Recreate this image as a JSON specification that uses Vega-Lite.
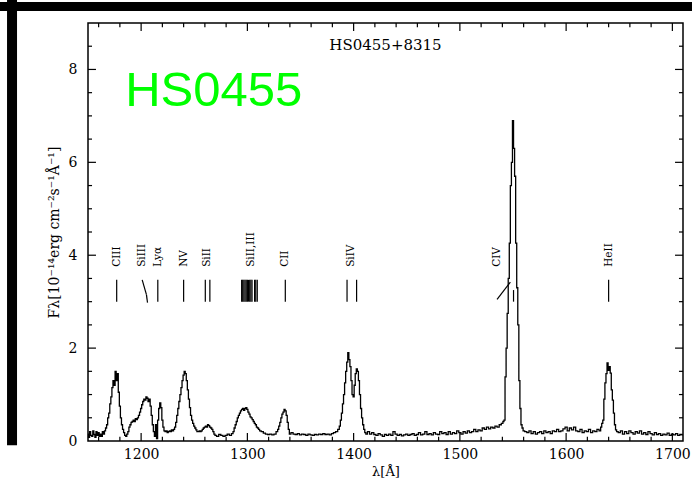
{
  "$schema": "https://vega.github.io/schema/vega-lite/v6.json",
  "width": 595,
  "height": 418,
  "autosize": "none",
  "padding": {"left": 88, "top": 23, "right": 9, "bottom": 41},
  "background": "white",
  "config": {
    "view": {"stroke": "black", "strokeWidth": 1.5},
    "axis": {"grid": false, "domain": false, "ticks": false, "labelColor": "black", "titleColor": "black", "labelFont": "DejaVu Serif", "titleFont": "DejaVu Serif", "labelFontSize": 14, "titleFontSize": 14, "titleFontWeight": "normal", "labelOverlap": false, "labelFlush": false}
  },
  "datasets": {
    "spec": [
      {"w":1150,"f":0.15},{"w":1151,"f":0.08},{"w":1152,"f":0.2},{"w":1153,"f":0.12},{"w":1154,"f":0.1},{"w":1155,"f":0.22},{"w":1156,"f":0.14},{"w":1157,"f":0.08},{"w":1158,"f":0.2},{"w":1159,"f":0.12},
      {"w":1160,"f":0.18},{"w":1161,"f":0.1},{"w":1162,"f":0.15},{"w":1163,"f":0.1},{"w":1164,"f":0.2},{"w":1165,"f":0.15},{"w":1166,"f":0.22},{"w":1167,"f":0.28},{"w":1168,"f":0.35},{"w":1169,"f":0.5},
      {"w":1170,"f":0.6},{"w":1171,"f":0.8},{"w":1172,"f":0.95},{"w":1173,"f":1.15},{"w":1174,"f":1.3},{"w":1175,"f":1.2},{"w":1176,"f":1.5},{"w":1177,"f":1.3},{"w":1178,"f":1.45},{"w":1179,"f":1.05},
      {"w":1180,"f":0.75},{"w":1181,"f":0.5},{"w":1182,"f":0.35},{"w":1183,"f":0.25},{"w":1184,"f":0.18},{"w":1185,"f":0.12},{"w":1186,"f":0.1},{"w":1187,"f":0.15},{"w":1188,"f":0.2},{"w":1189,"f":0.3},
      {"w":1190,"f":0.35},{"w":1191,"f":0.4},{"w":1192,"f":0.42},{"w":1193,"f":0.45},{"w":1194,"f":0.42},{"w":1195,"f":0.48},{"w":1196,"f":0.46},{"w":1197,"f":0.5},{"w":1198,"f":0.55},{"w":1199,"f":0.62},
      {"w":1200,"f":0.7},{"w":1201,"f":0.78},{"w":1202,"f":0.85},{"w":1203,"f":0.9},{"w":1204,"f":0.88},{"w":1205,"f":0.95},{"w":1206,"f":0.92},{"w":1207,"f":0.85},{"w":1208,"f":0.9},{"w":1209,"f":0.75},
      {"w":1210,"f":0.55},{"w":1211,"f":0.35},{"w":1212,"f":0.2},{"w":1213,"f":0.1},{"w":1214,"f":0.35},{"w":1215,"f":0.05},{"w":1216,"f":0.45},{"w":1217,"f":0.7},{"w":1218,"f":0.82},{"w":1219,"f":0.72},
      {"w":1220,"f":0.45},{"w":1221,"f":0.3},{"w":1222,"f":0.22},{"w":1223,"f":0.2},{"w":1224,"f":0.22},{"w":1225,"f":0.18},{"w":1226,"f":0.2},{"w":1227,"f":0.22},{"w":1228,"f":0.2},{"w":1229,"f":0.24},
      {"w":1230,"f":0.22},{"w":1231,"f":0.25},{"w":1232,"f":0.3},{"w":1233,"f":0.4},{"w":1234,"f":0.55},{"w":1235,"f":0.7},{"w":1236,"f":0.85},{"w":1237,"f":1.0},{"w":1238,"f":1.15},{"w":1239,"f":1.3},
      {"w":1240,"f":1.42},{"w":1241,"f":1.5},{"w":1242,"f":1.45},{"w":1243,"f":1.3},{"w":1244,"f":1.1},{"w":1245,"f":0.9},{"w":1246,"f":0.72},{"w":1247,"f":0.55},{"w":1248,"f":0.45},{"w":1249,"f":0.38},
      {"w":1250,"f":0.32},{"w":1251,"f":0.28},{"w":1252,"f":0.24},{"w":1253,"f":0.2},{"w":1254,"f":0.2},{"w":1255,"f":0.22},{"w":1256,"f":0.2},{"w":1257,"f":0.22},{"w":1258,"f":0.25},{"w":1259,"f":0.28},
      {"w":1260,"f":0.3},{"w":1261,"f":0.32},{"w":1262,"f":0.3},{"w":1263,"f":0.35},{"w":1264,"f":0.33},{"w":1265,"f":0.3},{"w":1266,"f":0.28},{"w":1267,"f":0.25},{"w":1268,"f":0.2},{"w":1269,"f":0.15},
      {"w":1270,"f":0.12},{"w":1272,"f":0.1},{"w":1274,"f":0.14},{"w":1276,"f":0.12},{"w":1278,"f":0.1},{"w":1280,"f":0.12},{"w":1282,"f":0.15},{"w":1284,"f":0.12},{"w":1286,"f":0.16},{"w":1287,"f":0.2},
      {"w":1288,"f":0.28},{"w":1289,"f":0.35},{"w":1290,"f":0.42},{"w":1291,"f":0.5},{"w":1292,"f":0.55},{"w":1293,"f":0.6},{"w":1294,"f":0.65},{"w":1295,"f":0.68},{"w":1296,"f":0.7},{"w":1297,"f":0.66},
      {"w":1298,"f":0.7},{"w":1299,"f":0.72},{"w":1300,"f":0.68},{"w":1301,"f":0.62},{"w":1302,"f":0.58},{"w":1303,"f":0.52},{"w":1304,"f":0.5},{"w":1305,"f":0.46},{"w":1306,"f":0.42},{"w":1307,"f":0.38},
      {"w":1308,"f":0.35},{"w":1309,"f":0.3},{"w":1310,"f":0.28},{"w":1311,"f":0.25},{"w":1312,"f":0.22},{"w":1314,"f":0.2},{"w":1316,"f":0.17},{"w":1318,"f":0.15},{"w":1320,"f":0.14},{"w":1322,"f":0.15},
      {"w":1324,"f":0.13},{"w":1326,"f":0.15},{"w":1328,"f":0.2},{"w":1329,"f":0.25},{"w":1330,"f":0.32},{"w":1331,"f":0.4},{"w":1332,"f":0.5},{"w":1333,"f":0.58},{"w":1334,"f":0.62},{"w":1335,"f":0.68},
      {"w":1336,"f":0.65},{"w":1337,"f":0.55},{"w":1338,"f":0.4},{"w":1339,"f":0.25},{"w":1340,"f":0.15},{"w":1342,"f":0.18},{"w":1344,"f":0.15},{"w":1346,"f":0.14},{"w":1348,"f":0.16},{"w":1350,"f":0.13},
      {"w":1352,"f":0.15},{"w":1354,"f":0.14},{"w":1356,"f":0.12},{"w":1358,"f":0.15},{"w":1360,"f":0.13},{"w":1362,"f":0.12},{"w":1364,"f":0.14},{"w":1366,"f":0.13},{"w":1368,"f":0.15},{"w":1370,"f":0.14},
      {"w":1372,"f":0.16},{"w":1374,"f":0.14},{"w":1376,"f":0.15},{"w":1378,"f":0.13},{"w":1380,"f":0.16},{"w":1382,"f":0.18},{"w":1384,"f":0.2},{"w":1386,"f":0.25},{"w":1387,"f":0.32},{"w":1388,"f":0.45},
      {"w":1389,"f":0.6},{"w":1390,"f":0.8},{"w":1391,"f":1.0},{"w":1392,"f":1.25},{"w":1393,"f":1.5},{"w":1394,"f":1.7},{"w":1395,"f":1.9},{"w":1396,"f":1.75},{"w":1397,"f":1.6},{"w":1398,"f":1.3},
      {"w":1399,"f":1.0},{"w":1400,"f":0.95},{"w":1401,"f":1.2},{"w":1402,"f":1.45},{"w":1403,"f":1.55},{"w":1404,"f":1.5},{"w":1405,"f":1.3},{"w":1406,"f":1.0},{"w":1407,"f":0.7},{"w":1408,"f":0.5},
      {"w":1409,"f":0.35},{"w":1410,"f":0.25},{"w":1411,"f":0.18},{"w":1412,"f":0.15},{"w":1414,"f":0.2},{"w":1416,"f":0.15},{"w":1418,"f":0.18},{"w":1420,"f":0.14},{"w":1422,"f":0.12},{"w":1424,"f":0.16},
      {"w":1426,"f":0.13},{"w":1428,"f":0.1},{"w":1430,"f":0.14},{"w":1432,"f":0.12},{"w":1434,"f":0.15},{"w":1436,"f":0.12},{"w":1438,"f":0.2},{"w":1440,"f":0.15},{"w":1442,"f":0.12},{"w":1444,"f":0.14},
      {"w":1446,"f":0.11},{"w":1448,"f":0.13},{"w":1450,"f":0.15},{"w":1452,"f":0.12},{"w":1454,"f":0.14},{"w":1456,"f":0.16},{"w":1458,"f":0.12},{"w":1460,"f":0.14},{"w":1462,"f":0.18},{"w":1464,"f":0.13},
      {"w":1466,"f":0.15},{"w":1468,"f":0.2},{"w":1470,"f":0.14},{"w":1472,"f":0.16},{"w":1474,"f":0.13},{"w":1476,"f":0.18},{"w":1478,"f":0.15},{"w":1480,"f":0.14},{"w":1482,"f":0.2},{"w":1484,"f":0.16},
      {"w":1486,"f":0.18},{"w":1488,"f":0.14},{"w":1490,"f":0.2},{"w":1492,"f":0.15},{"w":1494,"f":0.18},{"w":1496,"f":0.16},{"w":1498,"f":0.22},{"w":1500,"f":0.18},{"w":1502,"f":0.15},{"w":1504,"f":0.2},
      {"w":1506,"f":0.17},{"w":1508,"f":0.22},{"w":1510,"f":0.18},{"w":1512,"f":0.2},{"w":1514,"f":0.25},{"w":1516,"f":0.2},{"w":1518,"f":0.24},{"w":1520,"f":0.22},{"w":1522,"f":0.28},{"w":1524,"f":0.25},
      {"w":1526,"f":0.3},{"w":1528,"f":0.26},{"w":1530,"f":0.3},{"w":1532,"f":0.28},{"w":1534,"f":0.32},{"w":1536,"f":0.3},{"w":1538,"f":0.35},{"w":1540,"f":0.38},{"w":1541,"f":0.42},{"w":1542,"f":0.45},
      {"w":1543,"f":1.38},{"w":1544,"f":2.0},{"w":1545,"f":2.75},{"w":1546,"f":3.5},{"w":1547,"f":4.26},{"w":1548,"f":5.5},{"w":1549,"f":6.0},{"w":1550,"f":6.9},{"w":1551,"f":6.3},{"w":1552,"f":5.7},
      {"w":1553,"f":4.26},{"w":1554,"f":3.3},{"w":1555,"f":2.5},{"w":1556,"f":1.3},{"w":1557,"f":0.7},{"w":1558,"f":0.35},{"w":1559,"f":0.28},{"w":1560,"f":0.22},{"w":1562,"f":0.2},{"w":1564,"f":0.18},
      {"w":1566,"f":0.22},{"w":1568,"f":0.16},{"w":1570,"f":0.2},{"w":1572,"f":0.15},{"w":1574,"f":0.18},{"w":1576,"f":0.2},{"w":1578,"f":0.16},{"w":1580,"f":0.22},{"w":1582,"f":0.18},{"w":1584,"f":0.2},
      {"w":1586,"f":0.16},{"w":1588,"f":0.22},{"w":1590,"f":0.2},{"w":1592,"f":0.25},{"w":1594,"f":0.2},{"w":1596,"f":0.22},{"w":1598,"f":0.26},{"w":1600,"f":0.3},{"w":1602,"f":0.22},{"w":1604,"f":0.28},
      {"w":1606,"f":0.24},{"w":1608,"f":0.3},{"w":1610,"f":0.22},{"w":1612,"f":0.2},{"w":1614,"f":0.25},{"w":1616,"f":0.18},{"w":1618,"f":0.22},{"w":1620,"f":0.2},{"w":1622,"f":0.25},{"w":1624,"f":0.18},
      {"w":1626,"f":0.22},{"w":1628,"f":0.2},{"w":1630,"f":0.25},{"w":1632,"f":0.22},{"w":1633,"f":0.3},{"w":1634,"f":0.38},{"w":1635,"f":0.45},{"w":1636,"f":0.9},{"w":1637,"f":1.25},{"w":1638,"f":1.45},
      {"w":1639,"f":1.68},{"w":1640,"f":1.52},{"w":1641,"f":1.6},{"w":1642,"f":1.46},{"w":1643,"f":1.1},{"w":1644,"f":0.88},{"w":1645,"f":0.6},{"w":1646,"f":0.35},{"w":1647,"f":0.24},{"w":1648,"f":0.2},
      {"w":1650,"f":0.18},{"w":1652,"f":0.22},{"w":1654,"f":0.15},{"w":1656,"f":0.2},{"w":1658,"f":0.16},{"w":1660,"f":0.22},{"w":1662,"f":0.18},{"w":1664,"f":0.15},{"w":1666,"f":0.2},{"w":1668,"f":0.17},
      {"w":1670,"f":0.22},{"w":1672,"f":0.15},{"w":1674,"f":0.18},{"w":1676,"f":0.14},{"w":1678,"f":0.2},{"w":1680,"f":0.16},{"w":1682,"f":0.13},{"w":1684,"f":0.18},{"w":1686,"f":0.14},{"w":1688,"f":0.16},
      {"w":1690,"f":0.12},{"w":1692,"f":0.15},{"w":1694,"f":0.13},{"w":1696,"f":0.17},{"w":1698,"f":0.12},{"w":1700,"f":0.15},{"w":1702,"f":0.13},{"w":1704,"f":0.16},{"w":1706,"f":0.12},{"w":1708,"f":0.14},{"w":1710,"f":0.13}
    ],
    "segs": [
      {"w":1177,"f":3.0,"w2":1177,"f2":3.47},
      {"w":1201,"f":3.47,"w2":1205,"f2":3.15},
      {"w":1205,"f":3.15,"w2":1206,"f2":2.98},
      {"w":1215.7,"f":3.0,"w2":1215.7,"f2":3.47},
      {"w":1240,"f":3.0,"w2":1240,"f2":3.47},
      {"w":1260.4,"f":3.0,"w2":1260.4,"f2":3.47},
      {"w":1264.7,"f":3.0,"w2":1264.7,"f2":3.47},
      {"w":1294.6,"f":3.0,"w2":1294.6,"f2":3.47},
      {"w":1295.6,"f":3.0,"w2":1295.6,"f2":3.47},
      {"w":1296.7,"f":3.0,"w2":1296.7,"f2":3.47},
      {"w":1297.8,"f":3.0,"w2":1297.8,"f2":3.47},
      {"w":1298.9,"f":3.0,"w2":1298.9,"f2":3.47},
      {"w":1300,"f":3.0,"w2":1300,"f2":3.47},
      {"w":1301.1,"f":3.0,"w2":1301.1,"f2":3.47},
      {"w":1302.2,"f":3.0,"w2":1302.2,"f2":3.47},
      {"w":1303.3,"f":3.0,"w2":1303.3,"f2":3.47},
      {"w":1304.4,"f":3.0,"w2":1304.4,"f2":3.47},
      {"w":1306.8,"f":3.0,"w2":1306.8,"f2":3.47},
      {"w":1307.9,"f":3.0,"w2":1307.9,"f2":3.47},
      {"w":1309.3,"f":3.0,"w2":1309.3,"f2":3.47},
      {"w":1335.7,"f":3.0,"w2":1335.7,"f2":3.47},
      {"w":1393.8,"f":3.0,"w2":1393.8,"f2":3.47},
      {"w":1402.8,"f":3.0,"w2":1402.8,"f2":3.47},
      {"w":1535,"f":3.05,"w2":1547.5,"f2":3.42},
      {"w":1550.5,"f":3.25,"w2":1550.5,"f2":3.0},
      {"w":1640,"f":3.0,"w2":1640,"f2":3.47}
    ],
    "labels": [
      {"w":1177,"label":"CIII"},
      {"w":1201,"label":"SiIII"},
      {"w":1215.5,"label":"Lyα"},
      {"w":1240,"label":"NV"},
      {"w":1262,"label":"SiII"},
      {"w":1303.5,"label":"SiII,III"},
      {"w":1335.5,"label":"CII"},
      {"w":1397.5,"label":"SiIV"},
      {"w":1534.5,"label":"CIV"},
      {"w":1640,"label":"HeII"}
    ],
    "xmaj": [{"v":1200},{"v":1300},{"v":1400},{"v":1500},{"v":1600},{"v":1700}],
    "xmin": [{"v":1160},{"v":1180},{"v":1220},{"v":1240},{"v":1260},{"v":1280},{"v":1320},{"v":1340},{"v":1360},{"v":1380},{"v":1420},{"v":1440},{"v":1460},{"v":1480},{"v":1520},{"v":1540},{"v":1560},{"v":1580},{"v":1620},{"v":1640},{"v":1660},{"v":1680}],
    "ymaj": [{"v":2},{"v":4},{"v":6},{"v":8}],
    "ymin": [{"v":0.5},{"v":1},{"v":1.5},{"v":2.5},{"v":3},{"v":3.5},{"v":4.5},{"v":5},{"v":5.5},{"v":6.5},{"v":7},{"v":7.5},{"v":8.5}]
  },
  "layer": [
    {
      "data": {"name": "spec"},
      "mark": {"type": "line", "color": "black", "strokeWidth": 1.3, "interpolate": "step"},
      "encoding": {
        "x": {"field": "w", "type": "quantitative", "scale": {"domain": [1150, 1710], "nice": false, "zero": false},
          "axis": {"orient": "bottom", "values": [1200,1300,1400,1500,1600,1700], "format": "d",
            "labelPadding": 6, "title": "λ[Å]", "titleFontSize": 13, "titlePadding": 4}},
        "y": {"field": "f", "type": "quantitative", "scale": {"domain": [0, 9], "nice": false, "zero": false},
          "axis": {"orient": "left", "values": [0,2,4,6,8], "format": "d",
            "labelPadding": 11, "title": "Fλ[10⁻¹⁴erg cm⁻²s⁻¹Å⁻¹]", "titleFontSize": 14, "titlePadding": 7}}
      }
    },
    {
      "data": {"name": "xmaj"},
      "mark": {"type": "rule", "color": "black", "strokeWidth": 1.2},
      "encoding": {
        "x": {"field": "v", "type": "quantitative"},
        "y": {"datum": 0, "type": "quantitative"},
        "y2": {"datum": 0.172}
      }
    },
    {
      "data": {"name": "xmaj"},
      "mark": {"type": "rule", "color": "black", "strokeWidth": 1.2},
      "encoding": {
        "x": {"field": "v", "type": "quantitative"},
        "y": {"datum": 9, "type": "quantitative"},
        "y2": {"datum": 8.828}
      }
    },
    {
      "data": {"name": "xmin"},
      "mark": {"type": "rule", "color": "black", "strokeWidth": 1.2},
      "encoding": {
        "x": {"field": "v", "type": "quantitative"},
        "y": {"datum": 0, "type": "quantitative"},
        "y2": {"datum": 0.09}
      }
    },
    {
      "data": {"name": "xmin"},
      "mark": {"type": "rule", "color": "black", "strokeWidth": 1.2},
      "encoding": {
        "x": {"field": "v", "type": "quantitative"},
        "y": {"datum": 9, "type": "quantitative"},
        "y2": {"datum": 8.91}
      }
    },
    {
      "data": {"name": "ymaj"},
      "mark": {"type": "rule", "color": "black", "strokeWidth": 1.2},
      "encoding": {
        "y": {"field": "v", "type": "quantitative"},
        "x": {"datum": 1150, "type": "quantitative"},
        "x2": {"datum": 1157.5}
      }
    },
    {
      "data": {"name": "ymaj"},
      "mark": {"type": "rule", "color": "black", "strokeWidth": 1.2},
      "encoding": {
        "y": {"field": "v", "type": "quantitative"},
        "x": {"datum": 1710, "type": "quantitative"},
        "x2": {"datum": 1702.5}
      }
    },
    {
      "data": {"name": "ymin"},
      "mark": {"type": "rule", "color": "black", "strokeWidth": 1.2},
      "encoding": {
        "y": {"field": "v", "type": "quantitative"},
        "x": {"datum": 1150, "type": "quantitative"},
        "x2": {"datum": 1153.8}
      }
    },
    {
      "data": {"name": "ymin"},
      "mark": {"type": "rule", "color": "black", "strokeWidth": 1.2},
      "encoding": {
        "y": {"field": "v", "type": "quantitative"},
        "x": {"datum": 1710, "type": "quantitative"},
        "x2": {"datum": 1706.2}
      }
    },
    {
      "data": {"name": "segs"},
      "mark": {"type": "rule", "color": "black", "strokeWidth": 1.2},
      "encoding": {
        "x": {"field": "w", "type": "quantitative"},
        "x2": {"field": "w2"},
        "y": {"field": "f", "type": "quantitative"},
        "y2": {"field": "f2"}
      }
    },
    {
      "data": {"name": "labels"},
      "mark": {"type": "text", "angle": 270, "align": "left", "baseline": "middle", "font": "DejaVu Serif", "fontSize": 10.5, "color": "black"},
      "encoding": {
        "x": {"field": "w", "type": "quantitative"},
        "y": {"datum": 3.75, "type": "quantitative"},
        "text": {"field": "label"}
      }
    },
    {
      "data": {"values": [{}]},
      "mark": {"type": "text", "align": "center", "baseline": "middle", "font": "DejaVu Serif", "fontSize": 15, "color": "black"},
      "encoding": {
        "x": {"datum": 1430, "type": "quantitative"},
        "y": {"datum": 8.53, "type": "quantitative"},
        "text": {"value": "HS0455+8315"}
      }
    },
    {
      "data": {"values": [{}]},
      "mark": {"type": "text", "align": "left", "baseline": "alphabetic", "font": "Liberation Sans", "fontSize": 49, "color": "#00ff00"},
      "encoding": {
        "x": {"datum": 1185, "type": "quantitative"},
        "y": {"datum": 7.21, "type": "quantitative"},
        "text": {"value": "HS0455"}
      }
    },
    {
      "data": {"values": [{}]},
      "mark": {"type": "rule", "color": "black", "strokeWidth": 9},
      "encoding": {
        "x": {"datum": 1050, "type": "quantitative"},
        "x2": {"datum": 1730},
        "y": {"datum": 9.356, "type": "quantitative"}
      }
    },
    {
      "data": {"values": [{}]},
      "mark": {"type": "rule", "color": "black", "strokeWidth": 10},
      "encoding": {
        "x": {"datum": 1078.5, "type": "quantitative"},
        "y": {"datum": 9.6, "type": "quantitative"},
        "y2": {"datum": -0.09}
      }
    }
  ]
}
